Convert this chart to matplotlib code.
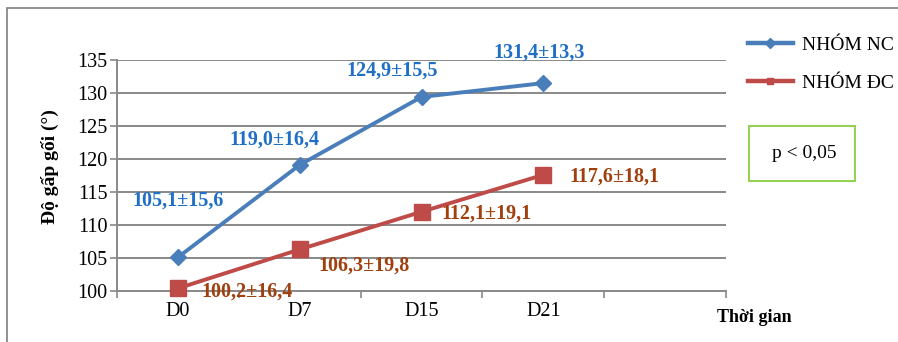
import matplotlib
matplotlib.use('Agg')
import matplotlib.pyplot as plt
from matplotlib.patches import Rectangle

# Data
categories = ['D0', 'D7', 'D15', 'D21', '']
nc_values = [105.1, 119.1, 129.4, 131.5]
dc_values = [100.4, 106.3, 112.0, 117.6]
nc_labels = ['105,1±15,6', '119,0±16,4', '124,9±15,5', '131,4±13,3']
dc_labels = ['100,2±16,4', '106,3±19,8', '112,1±19,1', '117,6±18,1']
y_ticks = [100, 105, 110, 115, 120, 125, 130, 135]

SERIF = ['Liberation Serif', 'DejaVu Serif']
BLUE = '#4A7EBB'
RED = '#BE4B48'
BLUE_TXT = '#1F6FC6'
RED_TXT = '#A0400E'
GRID = '#898989'

plt.rcParams['font.family'] = SERIF

W, H = 898, 342
fig = plt.figure(figsize=(W / 100, H / 100), dpi=100)
fig.patch.set_facecolor('white')

# outer chart frame (runs off the right / bottom edge in the reference)
fig.patches.append(Rectangle((7 / W, -0.1), 1.2, 1 - 8 / H + 0.1, transform=fig.transFigure,
                             fill=False, edgecolor='#7F7F7F', linewidth=1.2))

ax = fig.add_axes([117 / W, 1 - 291 / H, (726 - 117) / W, (291 - 60) / H])

x = list(range(len(categories)))
ax.plot(x[:len(nc_values)], nc_values, color=BLUE, linewidth=2.8, marker='D', markersize=8.5,
        markerfacecolor=BLUE, markeredgecolor=BLUE, label='NHÓM NC', zorder=3, clip_on=False)
ax.plot(x[:len(dc_values)], dc_values, color=RED, linewidth=2.8, marker='s', markersize=11,
        markerfacecolor=RED, markeredgecolor=RED, label='NHÓM ĐC', zorder=3, clip_on=False)

ax.set_xlim(-0.5, len(categories) - 0.5)
ax.set_ylim(100, 135)
ax.set_yticks(y_ticks)
ax.set_yticklabels([str(v) for v in y_ticks], fontsize=14.5)
ax.set_xticks(x[:4])
ax.set_xticklabels(categories[:4], fontsize=14.5)
ax.tick_params(axis='x', length=0, pad=8)
ax.tick_params(axis='y', length=5, width=1.2, color=GRID, pad=2)
# category boundary ticks on x axis
ax.set_xticks([i - 0.5 for i in range(len(categories) + 1)], minor=True)
ax.tick_params(axis='x', which='minor', length=5, width=1.2, color=GRID)

ax.grid(axis='y', color=GRID, linewidth=1.4)
ax.set_axisbelow(True)
for side in ['top', 'right']:
    ax.spines[side].set_visible(False)
ax.spines['left'].set_color(GRID)
ax.spines['bottom'].set_color(GRID)
ax.spines['left'].set_linewidth(1.4)
ax.spines['bottom'].set_linewidth(1.4)

# data labels (offsets in points from each marker)
nc_offsets = [(0, 41), (-18, 18), (-21.5, 19), (-3, 22)]
dc_offsets = [(50, -2), (46, -12), (47, -1), (51, -1.5)]
for i, (v, t) in enumerate(zip(nc_values, nc_labels)):
    ax.annotate(t, (x[i], v), xytext=nc_offsets[i], textcoords='offset points', ha='center',
                va='center', fontsize=14.5, fontweight='bold', color=BLUE_TXT)
for i, (v, t) in enumerate(zip(dc_values, dc_labels)):
    ax.annotate(t, (x[i], v), xytext=dc_offsets[i], textcoords='offset points', ha='center',
                va='center', fontsize=14.5, fontweight='bold', color=RED_TXT, annotation_clip=False)

fig.text(50 / W, 1 - 167 / H, 'Độ gấp gối (°)', rotation=90, ha='center', va='center',
         fontsize=14, fontweight='bold')
fig.text(754 / W, 1 - 318 / H, 'Thời gian', ha='center', va='center', fontsize=13,
         fontweight='bold')

leg = fig.legend(loc='upper left', bbox_to_anchor=(748 / W, 1 - 36 / H), frameon=False,
                 fontsize=14, handlelength=2.3, handletextpad=0.5, labelspacing=1.05,
                 borderaxespad=0, borderpad=0)
for h in leg.legend_handles:
    h.set_markersize(5)
    h.set_linewidth(3.2)

fig.patches.append(Rectangle((749 / W, 1 - 181 / H), (855 - 749) / W, (181 - 126) / H,
                             transform=fig.transFigure, fill=False, edgecolor='#92D050',
                             linewidth=1.4))
fig.text(804 / W, 1 - 154 / H, 'p < 0,05', ha='center', va='center', fontsize=14)

fig.savefig('out.png', dpi=100)
